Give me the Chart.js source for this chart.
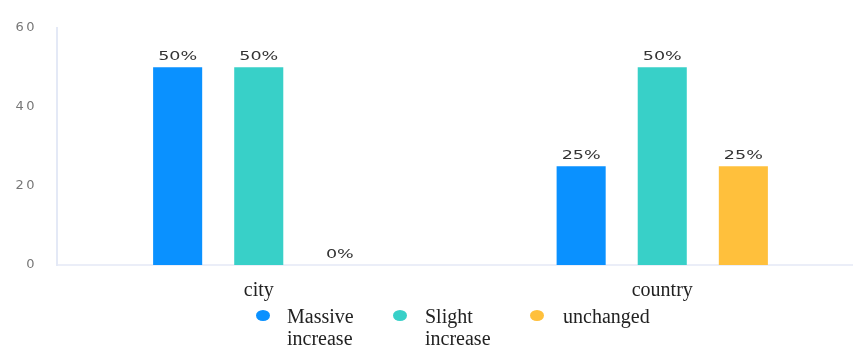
<!DOCTYPE html>
<html>
<head>
<meta charset="utf-8">
<script src="https://cdn.jsdelivr.net/npm/chart.js@4/dist/chart.umd.min.js"></script>
<style>
  html, body { margin: 0; padding: 0; background: #fff; overflow: hidden; width: 853px; height: 351px; }
  #wrap { position: relative; width: 853px; height: 351px; overflow: hidden; }
  canvas { position: absolute; left: 0; top: 0; }
  .lg { position: absolute; font-family: "Liberation Serif", "Times New Roman", serif; font-size: 20px; line-height: 22px; color: #222; }
  .dot { position: absolute; width: 14px; height: 11px; border-radius: 50%; }
</style>
</head>
<body>
<div id="wrap">
  <canvas id="c" width="870" height="351"></canvas>
</div>
<script>
const categories = ["city", "country"];
const seriesNames = [["Massive", "increase"], ["Slight", "increase"], ["unchanged"]];
const massiveIncrease = [50, 25];
const slightIncrease = [50, 50];
const unchanged = [0, 25];
const yTicks = [0, 20, 40, 60];
const colors = ["#0A91FF", "#38D0C8", "#FFC03C"];

const seriesValues = [massiveIncrease, slightIncrease, unchanged];

// HTML legend built from series names
const legendPos = [
  { dotX: 256, textX: 287 },
  { dotX: 393, textX: 425 },
  { dotX: 530, textX: 563 }
];
const wrap = document.getElementById('wrap');
seriesNames.forEach((name, i) => {
  const d = document.createElement('div');
  d.className = 'dot';
  d.style.left = legendPos[i].dotX + 'px';
  d.style.top = '310px';
  d.style.background = colors[i];
  wrap.appendChild(d);
  const t = document.createElement('div');
  t.className = 'lg';
  t.style.left = legendPos[i].textX + 'px';
  t.style.top = '305px';
  t.innerHTML = name.join('<br>');
  wrap.appendChild(t);
});

const spacingPlugin = {
  id: 'spacing',
  beforeDraw(chart) { chart.ctx.letterSpacing = '2.5px'; },
  afterDatasetsDraw(chart) {
    const ctx = chart.ctx;
    ctx.letterSpacing = '0px';
    ctx.save();
    ctx.font = '13px "DejaVu Sans"';
    ctx.fillStyle = '#333';
    ctx.textAlign = 'center';
    ctx.textBaseline = 'alphabetic';
    const sx = 1.35;
    chart.data.datasets.forEach((ds, di) => {
      const meta = chart.getDatasetMeta(di);
      meta.data.forEach((bar, i) => {
        const txt = ds.data[i] + '%';
        ctx.save();
        ctx.translate(bar.x, bar.y - 7);
        ctx.scale(sx, 1);
        ctx.fillText(txt, 0, 0);
        ctx.restore();
      });
    });
    ctx.restore();
  }
};

new Chart(document.getElementById('c'), {
  type: 'bar',
  data: {
    labels: categories,
    datasets: seriesValues.map((vals, i) => ({
      label: seriesNames[i].join(' '),
      data: vals,
      backgroundColor: colors[i],
      borderWidth: 0,
      categoryPercentage: 0.603,
      barPercentage: 0.605
    }))
  },
  options: {
    responsive: false,
    animation: false,
    events: [],
    layout: { padding: { top: 21, right: 6, left: 0, bottom: 0 } },
    plugins: { legend: { display: false }, tooltip: { enabled: false } },
    scales: {
      x: {
        grid: { display: false, drawTicks: false },
        border: { display: true, color: '#EBEEF8', width: 2 },
        ticks: {
          z: 1,
          padding: 14,
          color: '#222',
          font: { family: "Liberation Serif", size: 20 }
        },
        afterFit(scale) { scale.height = 86; }
      },
      y: {
        min: 0,
        max: 60,
        afterBuildTicks(scale) { scale.ticks = yTicks.map(v => ({ value: v })); },
        grid: { display: false, drawTicks: false },
        border: { display: true, color: '#E4E9F6', width: 2 },
        ticks: {
          padding: 20,
          color: '#777',
          font: { family: "DejaVu Sans", size: 13 }
        },
        afterFit(scale) { scale.width = 57; }
      }
    }
  },
  plugins: [spacingPlugin]
});
</script>
</body>
</html>
